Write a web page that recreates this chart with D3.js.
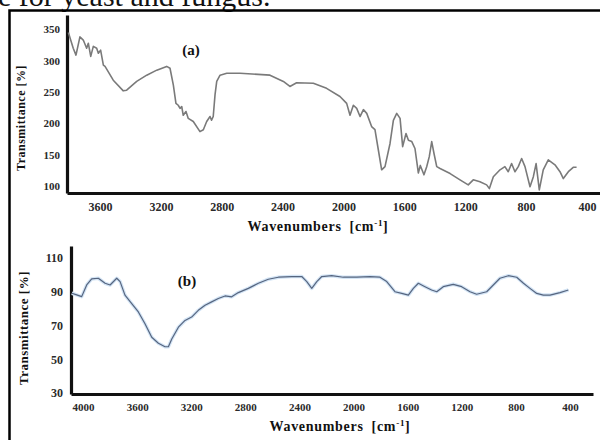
<!DOCTYPE html>
<html>
<head>
<meta charset="utf-8">
<script src="https://cdn.jsdelivr.net/npm/d3@7"></script>
<style>
  body { margin: 0; background: #fff; }
  svg { display: block; }
  .tick text { font-family: "Liberation Serif", serif; font-weight: bold; fill: #2a2a2a; }
  .ttl { font-family: "Liberation Serif", serif; font-weight: bold; fill: #111; }
</style>
</head>
<body>
<div id="chart"></div>
<script>
// ---- data ----
// panel (a)
var wnA = [3808,3776,3758,3732,3710,3688,3677,3661,3644,3622,3611,3596,3578,3567,3513,3447,3425,3359,3293,3227,
  3162,3140,3118,3101,3086,3074,3063,3053,3035,3020,2987,2943,2921,2899,2877,2867,2856,2844,2833,2811,
  2767,2680,2483,2395,2352,2308,2198,2111,2023,1979,1957,1935,1913,1891,1869,1847,1815,1793,1771,1749,
  1727,1694,1672,1650,1628,1611,1589,1573,1551,1530,1508,1495,1471,1453,1436,1420,1405,1387,1365,1299,
  1234,1180,1147,1103,1059,1041,1015,971,939,917,895,873,851,829,807,774,752,734,713,687,
  654,610,577,555,522,490,468];
var transA = [345,320,309,338,333,320,328,307,323,320,312,317,293,291,269,252,253,267,277,285,
  291,288,261,232,229,224,227,213,219,208,203,187,190,203,211,205,211,246,267,277,
  280,280,277,267,259,265,264,256,243,232,213,229,224,211,222,216,195,190,158,126,
  131,168,205,216,208,163,184,173,171,160,121,133,118,131,147,171,152,131,128,120,
  110,102,110,107,102,96,115,126,131,123,136,123,131,144,131,99,115,136,94,126,
  142,134,123,112,123,130,130];
var xTicksA = [3600,3200,2800,2400,2000,1600,1200,800,400];
var yTicksA = [100,150,200,250,300,350];

// panel (b)
var wnB = [4083,4047,4010,3973,3936,3887,3837,3800,3751,3726,3690,3640,3591,3542,3492,3443,3394,3369,3344,3295,
  3246,3197,3148,3098,3049,3000,2950,2901,2852,2778,2704,2630,2556,2457,2383,2346,2309,2272,2235,2162,
  2076,1977,1878,1805,1755,1694,1644,1595,1558,1521,1472,1423,1385,1337,1263,1201,1139,1090,1016,967,
  918,856,794,744,696,646,597,548,474,412];
var transB = [89.1,88.1,87.1,94,97.6,98,95,94,98,96,88,83,78,71,63,59.5,57.4,57.4,62,69,
  73,75,79,82,84,86,87.5,87,89.5,92,95,97.4,98.6,99,99,96,92,96,99,99.5,
  98.6,98.6,99,98.6,96,90,89,88,92,95,93,91,90,93,94.4,93,90,88.5,90,94,
  98,99.5,98.6,95,92,89,88,88,89.5,91];
var xTicksB = [4000,3600,3200,2800,2400,2000,1600,1200,800,400];
var yTicksB = [30,50,70,90,110];

var svgWidth = 600;
var svgHeight = 440;

var svg = d3.select("#chart")
  .append("svg")
  .attr("width", svgWidth)
  .attr("height", svgHeight);

// caption text cut off at the top of the scan (it is cut in the original too)
svg.append("text")
  .attr("x", -2)
  .attr("y", 6)
  .attr("font-family", "Liberation Serif, serif")
  .attr("font-size", 30)
  .attr("fill", "#111")
  .text("e for yeast and fungus.");

// frame round the figure
svg.append("rect")
  .attr("x", 9.5)
  .attr("y", 10.5)
  .attr("width", 620)
  .attr("height", 460)
  .attr("fill", "none")
  .attr("stroke", "#000")
  .attr("stroke-width", 2.5);

// draws one panel
function drawPanel(p) {
  var x = d3.scaleLinear().domain(p.xDomain).range(p.xRange);
  var y = d3.scaleLinear().domain(p.yDomain).range(p.yRange);

  var g = svg.append("g");

  // x axis
  var xAxis = g.append("g")
    .attr("transform", `translate(0, ${p.yRange[0]})`)
    .call(d3.axisBottom(x).tickValues(p.xTicks).tickSize(0).tickPadding(p.xPad).tickFormat(d3.format("d")));
  xAxis.select(".domain").attr("stroke", "#111").attr("stroke-width", 3.2);
  xAxis.selectAll(".tick text").attr("font-size", p.xFont);

  // y axis
  var yAxis = g.append("g")
    .attr("transform", `translate(${p.xRange[0]}, 0)`)
    .call(d3.axisLeft(y).tickValues(p.yTicks).tickSize(0).tickPadding(p.yPad).tickFormat(d3.format("d")));
  yAxis.select(".domain").attr("stroke", "#111").attr("stroke-width", 3.2);
  yAxis.selectAll(".tick text").attr("font-size", p.yFont);

  var line = d3.line()
    .x(function(d, i) { return x(p.wn[i]); })
    .y(function(d) { return y(d); });

  if (p.halo) {
    g.append("path")
      .datum(p.trans)
      .attr("d", line)
      .attr("fill", "none")
      .attr("stroke", p.halo)
      .attr("stroke-width", 3.5)
      .attr("stroke-linejoin", "round");
  }
  g.append("path")
    .datum(p.trans)
    .attr("d", line)
    .attr("fill", "none")
    .attr("stroke", p.color)
    .attr("stroke-width", p.width)
    .attr("stroke-linejoin", "round");

  // panel label
  g.append("text")
    .attr("class", "ttl")
    .attr("x", p.tag[0])
    .attr("y", p.tag[1])
    .attr("text-anchor", "middle")
    .attr("font-size", 15)
    .text(p.tagText);

  // x title
  var xt = g.append("text")
    .attr("class", "ttl")
    .attr("x", p.xTitle[0])
    .attr("y", p.xTitle[1])
    .attr("text-anchor", "middle")
    .attr("font-size", 14)
    .attr("letter-spacing", 0.7);
  xt.append("tspan").text("Wavenumbers");
  xt.append("tspan").attr("dx", 8).text("[cm");
  xt.append("tspan").attr("dy", -5).attr("font-size", 9).text("-1");
  xt.append("tspan").attr("dy", 5).text("]");

  // y title
  g.append("text")
    .attr("class", "ttl")
    .attr("transform", `translate(${p.yTitle[0]}, ${p.yTitle[1]}) rotate(-90)`)
    .attr("text-anchor", "middle")
    .attr("font-size", p.yTitleFont)
    .attr("letter-spacing", 0.5)
    .text("Transmittance [%]");
}

drawPanel({
  wn: wnA, trans: transA,
  xDomain: [3817, 314], xRange: [67, 600],
  yDomain: [89, 373], yRange: [193, 15],
  xTicks: xTicksA, yTicks: yTicksA,
  xPad: 9, yPad: 7, xFont: 12, yFont: 11,
  color: "#7a7a7a", width: 1.6, halo: null,
  tag: [191, 55], tagText: "(a)",
  xTitle: [318, 231], yTitle: [25, 118], yTitleFont: 12
});

drawPanel({
  wn: wnB, trans: transB,
  xDomain: [4089, 230], xRange: [71, 593],
  yDomain: [29.4, 117.1], yRange: [394, 246],
  xTicks: xTicksB, yTicks: yTicksB,
  xPad: 9, yPad: 8, xFont: 11, yFont: 12,
  color: "#56657f", width: 1.2, halo: "#d3e4f5",
  tag: [187, 286], tagText: "(b)",
  xTitle: [340, 431], yTitle: [28, 328], yTitleFont: 13
});
</script>
</body>
</html>
